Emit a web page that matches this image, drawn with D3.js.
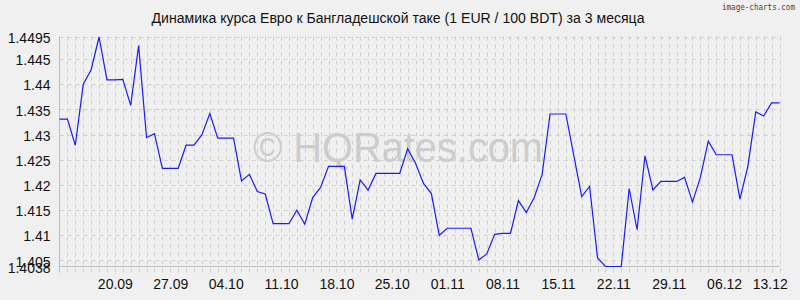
<!DOCTYPE html>
<html><head><meta charset="utf-8">
<script src="https://cdn.jsdelivr.net/npm/d3@7"></script>
<style>body{margin:0;background:#f0f0f0}</style>
</head><body>
<svg id="c" width="800" height="300"></svg>
<script>
const title = "Динамика курса Евро к Бангладешской таке (1 EUR / 100 BDT) за 3 месяца";
const brand = "image-charts.com";
const watermark = "© HQRates.com";
const startDate = "2019-09-13";
const endDate = "2019-12-13";
const values = [
  1.4331, 1.4331, 1.4279, 1.4400, 1.4429, 1.4494, 1.4409, 1.4409, 1.4410, 1.4358,
  1.4477, 1.4294, 1.4302, 1.4233, 1.4233, 1.4233, 1.4279, 1.4279, 1.4300, 1.4342,
  1.4293, 1.4293, 1.4293, 1.4208, 1.4221, 1.4187, 1.4182, 1.4123, 1.4123, 1.4123,
  1.4150, 1.4122, 1.4175, 1.4195, 1.4237, 1.4237, 1.4237, 1.4132, 1.4210, 1.4190,
  1.4223, 1.4223, 1.4223, 1.4223, 1.4272, 1.4243, 1.4203, 1.4183, 1.4100, 1.4114,
  1.4114, 1.4114, 1.4114, 1.4051, 1.4063, 1.4102, 1.4104, 1.4104, 1.4169, 1.4145,
  1.4175, 1.4221, 1.4341, 1.4341, 1.4341, 1.4259, 1.4177, 1.4197, 1.4055, 1.4038,
  1.4038, 1.4038, 1.4193, 1.4111, 1.4258, 1.4190, 1.4207, 1.4207, 1.4207, 1.4215,
  1.4166, 1.4215, 1.4287, 1.4260, 1.4260, 1.4260, 1.4172, 1.4237, 1.4345, 1.4337,
  1.4363, 1.4363
];
const xTickDates = ["2019-09-20","2019-09-27","2019-10-04","2019-10-11","2019-10-18","2019-10-25",
  "2019-11-01","2019-11-08","2019-11-15","2019-11-22","2019-11-29","2019-12-06","2019-12-13"];
const xTickLabels = ["20.09","27.09","04.10","11.10","18.10","25.10","01.11","08.11","15.11","22.11","29.11","06.12","13.12"];
const yTicks = [1.4038, 1.405, 1.41, 1.415, 1.42, 1.425, 1.43, 1.435, 1.44, 1.445, 1.4495];
const yTickLabels = ["1.4038","1.405","1.41","1.415","1.42","1.425","1.43","1.435","1.44","1.445","1.4495"];

const W = 800, H = 300, L = 59.5, R = 779.5, T = 36.5, B = 266.5;
const font = "'Liberation Sans', Arial, sans-serif";
const svg = d3.select("#c");
svg.append("rect").attr("width", W).attr("height", H).attr("fill", "#f0f0f0");

const parse = d3.timeParse("%Y-%m-%d");
const t0 = parse(startDate), t1 = parse(endDate);
const x = d3.scaleTime().domain([t0, t1]).range([L, R]);
const y = d3.scaleLinear().domain([yTicks[0], yTicks[yTicks.length - 1]]).range([B, T]);
const dates = values.map((v, i) => d3.timeDay.offset(t0, i));

// watermark
svg.append("text").attr("x", 398).attr("y", 162).attr("text-anchor", "middle")
  .attr("font-family", font).attr("font-size", 42).attr("fill", "#b4b4b4").attr("fill-opacity", 0.6)
  .attr("textLength", 290).attr("lengthAdjust", "spacingAndGlyphs").text(watermark);

// grid
const grid = svg.append("g").attr("stroke", "#cfcfcf").attr("stroke-width", 1).attr("fill", "none");
grid.selectAll("line.h").data(yTicks.slice(1)).join("line").attr("class", "h")
  .attr("x1", L).attr("x2", R).attr("y1", d => Math.round(y(d)) + 0.5).attr("y2", d => Math.round(y(d)) + 0.5)
  .attr("stroke-dasharray", "4,4");
grid.selectAll("line.v").data(dates.slice(1)).join("line").attr("class", "v")
  .attr("x1", d => Math.round(x(d)) + 0.5).attr("x2", d => Math.round(x(d)) + 0.5)
  .attr("y1", T).attr("y2", B + 6).attr("stroke-dasharray", "4,4");

// axis lines
svg.append("line").attr("x1", L).attr("x2", L).attr("y1", T).attr("y2", B + 6).attr("stroke", "#bdbdbd");
svg.append("line").attr("x1", L).attr("x2", R).attr("y1", B).attr("y2", B).attr("stroke", "#bdbdbd");

// axes labels
const ya = svg.append("g").attr("transform", `translate(${L},0)`)
  .call(d3.axisLeft(y).tickValues(yTicks).tickFormat((d, i) => yTickLabels[i]).tickSize(0).tickPadding(9));
ya.select(".domain").remove();
ya.selectAll("text").attr("font-family", font).attr("font-size", 14).attr("fill", "#111").attr("dy", "0.4em");

const xa = svg.append("g").attr("transform", `translate(0,${B})`)
  .call(d3.axisBottom(x).tickValues(xTickDates.map(parse)).tickFormat((d, i) => xTickLabels[i]).tickSize(0).tickPadding(13));
xa.select(".domain").remove();
xa.selectAll("text").attr("font-family", font).attr("font-size", 14).attr("fill", "#111");
xa.selectAll(".tick text").each(function () {
  const bb = this.getBBox();
  const tr = this.parentNode.transform.baseVal.consolidate().matrix.e;
  const right = tr + bb.x + bb.width;
  if (right > 788) d3.select(this).attr("x", 788 - right);
});

// line
const line = d3.line().x((d, i) => x(dates[i])).y(d => y(d));
svg.append("path").datum(values).attr("d", line).attr("fill", "none")
  .attr("stroke", "#1a1aff").attr("stroke-width", 1.2).attr("stroke-linejoin", "miter");

// title
svg.append("text").attr("x", 398).attr("y", 23).attr("text-anchor", "middle")
  .attr("font-family", "'Liberation Sans Narrow', 'Arial Narrow', " + font).attr("font-size", 15.5).attr("fill", "#111")
  .attr("textLength", 493).attr("lengthAdjust", "spacingAndGlyphs").text(title);

// brand
svg.append("text").attr("x", 795).attr("y", 10).attr("text-anchor", "end")
  .attr("font-family", "'DejaVu Sans Mono', monospace").attr("font-size", 9.5).attr("fill", "#444")
  .attr("textLength", 73).attr("lengthAdjust", "spacingAndGlyphs").text(brand);
</script>
</body></html>
